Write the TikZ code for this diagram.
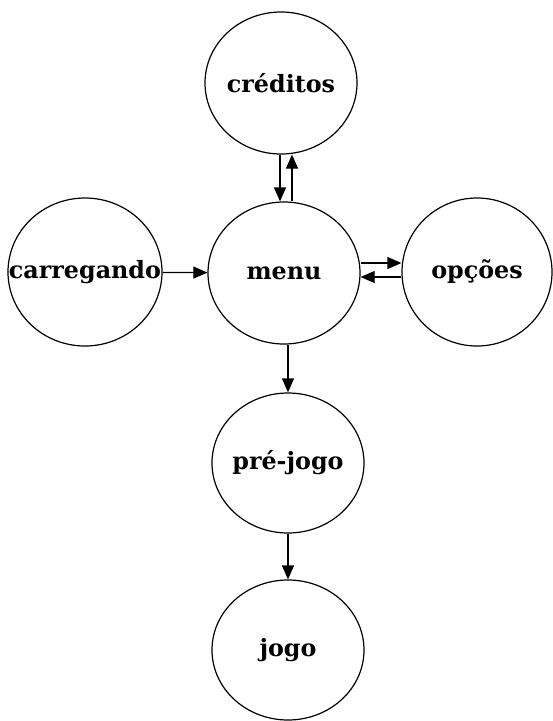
\documentclass[tikz,border=0pt]{standalone}
\usepackage{fontspec}
\setmainfont{DejaVu Serif}
\usetikzlibrary{shapes.geometric,arrows.meta}
\newcommand{\lbl}[1]{\makebox[0pt]{#1}}
\begin{document}
\begin{tikzpicture}[x=1pt,y=-1pt,
  state/.style={draw,ellipse,line width=1.2pt,inner sep=0pt,font=\fontsize{23.8}{26}\selectfont\bfseries},
  arr/.style={line width=1.2pt,-{Triangle[length=14pt,width=12pt]}}]
\useasboundingbox (0,0) rectangle (553,721);
\node[state,minimum width=152pt,minimum height=142pt] (cred) at (281,83) {\lbl{créditos}};
\node[state,minimum width=152pt,minimum height=142pt] (menu) at (284,273) {\lbl{menu}};
\node[state,minimum width=154pt,minimum height=148pt] (carr) at (85,272) {\lbl{carregando}};
\node[state,minimum width=150pt,minimum height=148pt] (opc) at (477,272) {\lbl{opções}};
\node[state,minimum width=152pt,minimum height=140pt] (pre) at (288,463) {\lbl{pré-jogo}};
\node[state,minimum width=152pt,minimum height=140pt] (jogo) at (288,650) {\lbl{jogo}};
\coordinate (xa) at (280,0);
\coordinate (xb) at (292,0);
\coordinate (ya) at (0,263);
\coordinate (yb) at (0,277);
\draw[arr] (cred.south -| xa) -- (menu.north -| xa);
\draw[arr] (menu.north -| xb) -- (cred.south -| xb);
\draw[arr] (carr) -- (menu);
\draw[arr] (menu.east |- ya) -- (opc.west |- ya);
\draw[arr] (opc.west |- yb) -- (menu.east |- yb);
\draw[arr] (menu.south -| pre.north) -- (pre.north);
\draw[arr] (pre) -- (jogo);
\end{tikzpicture}
\end{document}
